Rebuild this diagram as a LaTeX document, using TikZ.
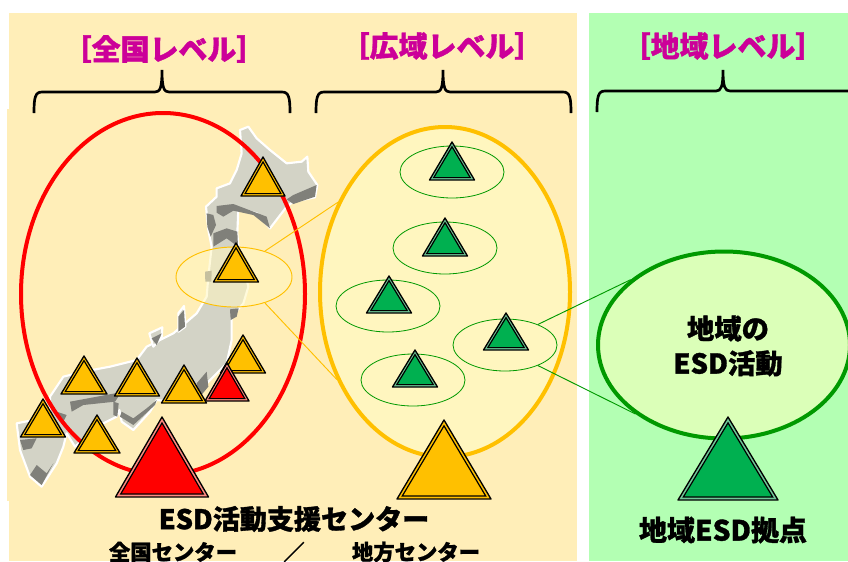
\documentclass[tikz,border=0pt]{standalone}
\usepackage{fontspec}
\usetikzlibrary{shapes.geometric}
\newfontfamily\jp[BoldFeatures={FakeBold=1.2}]{Noto Sans CJK JP}
\definecolor{panelc}{HTML}{FFEEB8}
\definecolor{greenp}{HTML}{B3FFB3}
\definecolor{amberc}{HTML}{FFC000}
\definecolor{redc}{HTML}{FF0000}
\definecolor{greenc}{HTML}{00B050}
\definecolor{darkg}{HTML}{009900}
\definecolor{magc}{HTML}{CC0099}
\definecolor{landc}{HTML}{D3D3C6}
\definecolor{shadec}{HTML}{80807A}
\definecolor{widefill}{HTML}{FFF6BF}
\definecolor{localfill}{HTML}{DBFFB8}
\colorlet{stripamberc}{amberc}
\definecolor{stripredc}{HTML}{FF8A80}
\definecolor{stripgreenc}{HTML}{70C898}
\tikzset{
  smallgreen/.style={ellipse,inner sep=0pt,minimum width=104*0.75pt,minimum height=52*0.75pt,draw=darkg,line width=0.6pt,fill=widefill},
  brace/.style={line width=2pt,black},
  halfline/.style={line width=0.7pt},
  level/.style={font=\jp\bfseries\fontsize{21.7}{21.7}\selectfont,text=magc,inner sep=0pt},
  capt/.style={text=black,inner sep=0pt},
  land/.style={fill=landc,draw=white,line width=1.6pt,line join=round},
  shade/.style={fill=shadec}
}
% \tri{apex x}{apex y}{half width}{base y}{fill}{inset}
\newcommand{\tri}[6]{%
  \pgfmathsetmacro{\hh}{#4-#2}%
  \pgfmathsetmacro{\rr}{#3*\hh/(#3+sqrt(#3*#3+\hh*\hh))}%
  \pgfmathsetmacro{\kk}{(\rr-#6)/\rr}%
  \pgfmathsetmacro{\cy}{#4-\rr}%
  \pgfmathsetmacro{\ay}{\cy+\kk*(#2-\cy)}%
  \pgfmathsetmacro{\by}{\cy+\kk*(#4-\cy)}%
  \pgfmathsetmacro{\xl}{#1-\kk*#3}%
  \pgfmathsetmacro{\xr}{#1+\kk*#3}%
  \draw[fill=strip#5,draw=black,line width=1pt,line join=round] (#1,#2) -- (#1-#3,#4) -- (#1+#3,#4) -- cycle;
  \draw[fill=#5,draw=black,line width=0.9pt,line join=miter] (#1,\ay) -- (\xl,\by) -- (\xr,\by) -- cycle;
}
\begin{document}
\begin{tikzpicture}[x=0.75pt,y=-0.75pt]
\useasboundingbox (0,0) rectangle (848,561);
\fill[white] (0,0) rectangle (848,561);
\fill[panelc] (9,13) rectangle (577,561);
\fill[panelc] (7,109) rectangle (40,501);
\fill[greenp] (589,13) rectangle (848,561);

% Japan
\begin{scope}[shift={(0,100)},x=0.25pt,y=-0.25pt]
\path[land] (720,90)--(745,80)--(770,115)--(810,150)--(860,190)--(905,185)--(922,170)--(925,215)--(952,255)--(945,292)--(880,305)--(860,320)--(810,385)--(770,340)--(715,325)--(712,400)--(715,440)--(745,560)--(730,610)--(695,650)--(695,720)--(680,790)--(640,830)--(610,860)--(590,905)--(520,905)--(470,900)--(450,935)--(400,990)--(365,965)--(358,930)--(350,950)--(300,975)--(225,1040)--(200,1000)--(190,1040)--(170,1090)--(125,1160)--(90,1130)--(60,1050)--(50,970)--(100,960)--(150,930)--(150,890)--(190,830)--(250,815)--(330,800)--(410,780)--(440,740)--(520,700)--(590,640)--(620,590)--(625,530)--(635,440)--(625,390)--(618,320)--(650,290)--(650,265)--(690,250)--(710,210)--(725,160)--cycle;
\path[land] (535,640)--(552,618)--(556,680)--(535,695)--cycle;
\path[land] (448,700)--(487,682)--(485,712)--(460,740)--cycle;
\fill[shade] (650,318)--(700,312)--(800,350)--(810,385)--(760,345)--(700,332)--(670,350)--(650,338)--cycle;
\fill[shade] (860,298)--(880,285)--(950,255)--(945,290)--(880,312)--cycle;
\fill[shade] (620,340)--(640,345)--(648,375)--(632,410)--(622,380)--cycle;
\fill[shade] (640,400)--(680,385)--(712,395)--(714,440)--(680,415)--(640,440)--cycle;
\fill[shade] (615,515)--(635,512)--(634,545)--(616,545)--cycle;
\fill[shade] (690,628)--(716,625)--(710,650)--(692,660)--cycle;
\fill[shade] (535,650)--(552,630)--(555,680)--(535,695)--cycle;
\fill[shade] (455,715)--(485,700)--(470,735)--cycle;
\fill[shade] (210,905)--(345,880)--(355,890)--(345,905)--(250,915)--(215,935)--cycle;
\fill[shade] (340,905)--(356,910)--(352,950)--(340,945)--cycle;
\fill[shade] (360,950)--(400,975)--(465,915)--(470,900)--(440,925)--(400,955)--(365,935)--cycle;
\fill[shade] (170,935)--(200,945)--(190,965)--cycle;
\fill[shade] (60,1020)--(110,1015)--(95,1045)--(70,1050)--cycle;
\fill[shade] (90,1125)--(110,1095)--(140,1120)--(160,1090)--(125,1155)--cycle;
\fill[shade] (590,850)--(620,815)--(625,860)--(600,890)--cycle;
\end{scope}

% ovals
\node[ellipse,inner sep=0pt,minimum width=284*0.75pt,minimum height=362*0.75pt,draw=redc,line width=3pt] (national) at (163,294) {};
\node[ellipse,inner sep=0pt,minimum width=250*0.75pt,minimum height=330*0.75pt,draw=amberc,line width=3pt,fill=widefill] (wide) at (445,292) {};
\node[ellipse,inner sep=0pt,minimum width=252*0.75pt,minimum height=187*0.75pt,draw=darkg,line width=3pt,fill=localfill] (local) at (724,345) {};
\node[ellipse,inner sep=0pt,minimum width=116*0.75pt,minimum height=60*0.75pt,draw=amberc,line width=0.7pt,fill=widefill,fill opacity=0.55] (focus) at (234,277) {};
\node[smallgreen] (g1) at (452,172) {};
\node[smallgreen] (g2) at (445,248) {};
\node[smallgreen] (g3) at (388,306) {};
\node[smallgreen] (g4) at (505,345) {};
\node[smallgreen] (g5) at (413,380) {};

% connectors
\draw[amberc,halfline] (focus.40) -- (wide.140);
\draw[amberc,halfline] (focus.-40) -- (wide.-141);
\draw[darkg,halfline] (g4.32) -- (local.145);
\draw[darkg,halfline] (g4.-32) -- (local.-142);

% triangles
\tri{263}{157}{22}{196}{amberc}{2.4}
\tri{236}{243}{22.5}{282}{amberc}{2.4}
\tri{243}{335}{22.5}{373}{amberc}{2.4}
\tri{227}{363}{22}{401}{redc}{2.4}
\tri{184}{365}{22.5}{403}{amberc}{2.4}
\tri{137}{358}{22.5}{396}{amberc}{2.4}
\tri{84}{356}{23}{394}{amberc}{2.4}
\tri{43}{399}{22.5}{437}{amberc}{2.4}
\tri{97}{415}{23}{453}{amberc}{2.4}
\tri{162}{417}{46.5}{497}{redc}{3}
\tri{444}{420}{47}{499}{amberc}{3}
\tri{728}{417}{50}{500}{greenc}{3}
\tri{452}{142}{22.5}{180}{greenc}{2.4}
\tri{445}{218}{22.5}{256}{greenc}{2.4}
\tri{389}{276}{22.5}{313}{greenc}{2.4}
\tri{506}{313}{22.5}{350}{greenc}{2.4}
\tri{415}{350}{22.5}{387}{greenc}{2.4}

% braces
\coordinate (b1) at (162,70);
\coordinate (b2) at (443,70);
\coordinate (b3) at (723,70);
\draw[brace] (34,113) .. controls (34,98) and (35,92) .. (42,92) -- (155,92) .. controls (160,92) and (162,88) .. (b1) .. controls (162,88) and (164,92) .. (169,92) -- (282,92) .. controls (289,92) and (290,98) .. (290,113);
\draw[brace] (316,113) .. controls (316,98) and (317,92) .. (324,92) -- (436,92) .. controls (441,92) and (443,88) .. (b2) .. controls (443,88) and (445,92) .. (450,92) -- (563,92) .. controls (570,92) and (571,98) .. (571,113);
\draw[brace] (597,112) .. controls (597,97) and (598,91) .. (605,91) -- (716,91) .. controls (721,91) and (723,87) .. (b3) .. controls (723,87) and (725,91) .. (730,91) -- (848,91);

% texts
\node[level] (t1) at (164,49) {［全国レベル］};
\node[level] (t2) at (442,46) {［広域レベル］};
\node[level] (t3) at (723,46) {［地域レベル］};
\node[capt,align=center,font=\jp\bfseries\fontsize{20.5}{26}\selectfont] (t4) at (728,346) {地域の\\ESD活動};
\node[capt,font=\jp\bfseries\fontsize{20.3}{20}\selectfont] (t5) at (294,519) {ESD活動支援センター};
\node[capt,font=\jp\bfseries\fontsize{16}{16}\selectfont] (t6) at (173,552) {全国センター};
\node[capt,font=\jp\bfseries\fontsize{16}{16}\selectfont] (t7) at (294,552) {／};
\node[capt,font=\jp\bfseries\fontsize{16}{16}\selectfont] (t8) at (416,552) {地方センター};
\node[capt,font=\jp\bfseries\fontsize{21}{21}\selectfont] (t9) at (723,530) {地域ESD拠点};
\end{tikzpicture}
\end{document}
